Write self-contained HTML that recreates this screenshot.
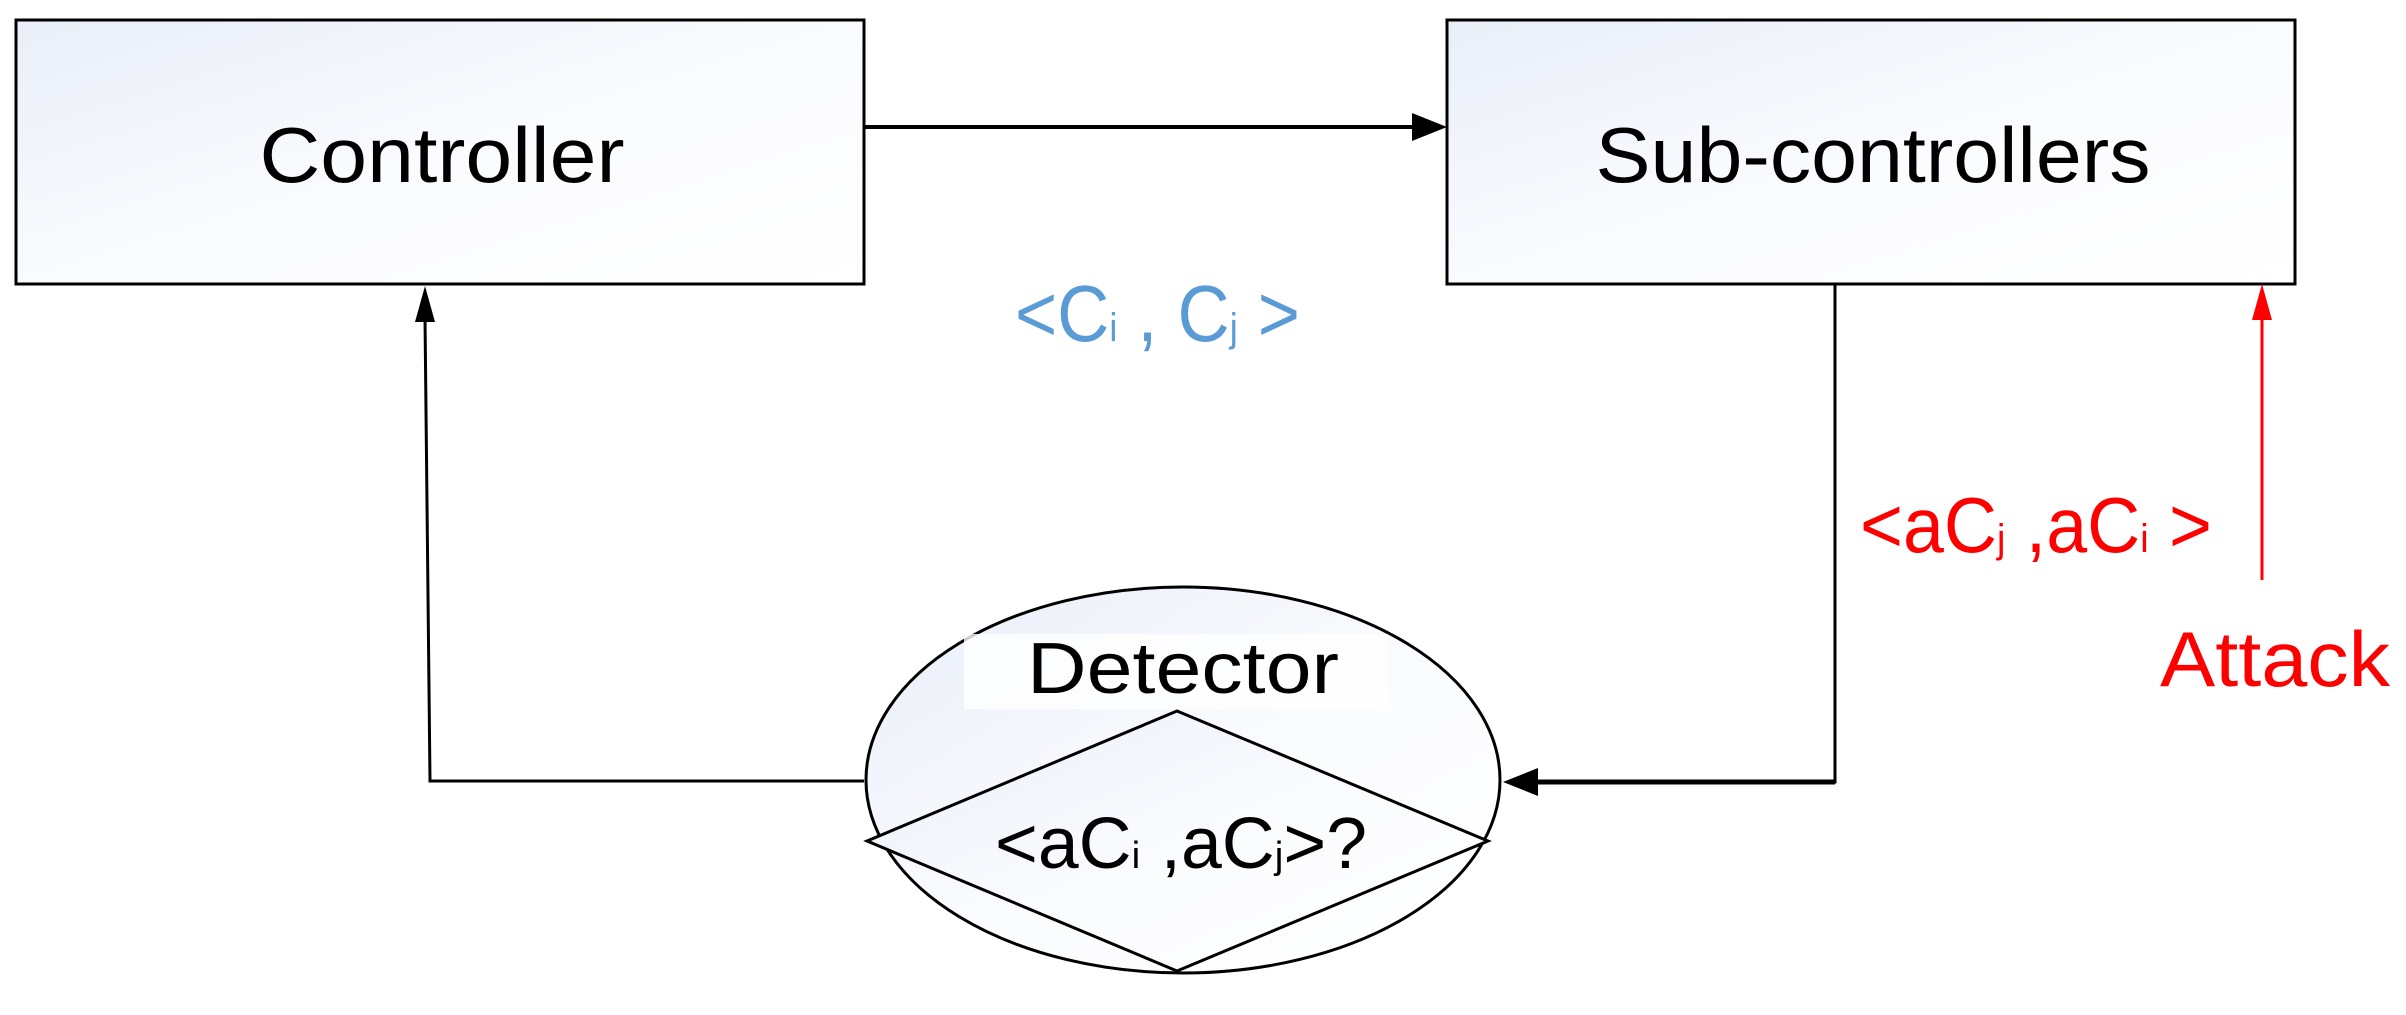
<!DOCTYPE html>
<html><head><meta charset="utf-8"><style>html,body{margin:0;padding:0;background:#fff}svg{display:block}</style></head>
<body>
<svg width="2406" height="1015" viewBox="0 0 2406 1015" xmlns="http://www.w3.org/2000/svg" font-family="Liberation Sans, sans-serif">
<defs>
<linearGradient id="g" x1="0" y1="0" x2="1" y2="1"><stop offset="0" stop-color="#e9eef8"/><stop offset="0.5" stop-color="#fafbfe"/><stop offset="1" stop-color="#ffffff"/></linearGradient>
</defs>
<rect x="16" y="20" width="848" height="264" fill="url(#g)" stroke="#000" stroke-width="3"/>
<rect x="1447" y="20" width="848" height="264" fill="url(#g)" stroke="#000" stroke-width="3"/>
<text x="442" y="182" font-size="78" text-anchor="middle" textLength="365" lengthAdjust="spacingAndGlyphs">Controller</text>
<text x="1873" y="182" font-size="78" text-anchor="middle" textLength="555" lengthAdjust="spacingAndGlyphs">Sub-controllers</text>
<!-- top arrow -->
<line x1="864" y1="127" x2="1415" y2="127" stroke="#000" stroke-width="4"/>
<polygon points="1447,127 1412,113 1412,141" fill="#000"/>
<!-- left feedback -->
<polyline points="864,781 430,781 425,318" fill="none" stroke="#000" stroke-width="3"/>
<polygon points="425,286 415,322 435,322" fill="#000"/>
<!-- right line -->
<polyline points="1835,284 1835,782 1530,782" fill="none" stroke="#000" stroke-width="3"/>
<line x1="1835" y1="782" x2="1530" y2="782" stroke="#000" stroke-width="5"/>
<polygon points="1503,782 1538,768 1538,796" fill="#000"/>
<!-- ellipse -->
<ellipse cx="1183" cy="780" rx="317" ry="193" fill="url(#g)" stroke="#000" stroke-width="3"/>
<rect x="964" y="634" width="424" height="75" fill="#fff" opacity="0.8"/>
<text x="1183" y="693" font-size="72" text-anchor="middle" textLength="312" lengthAdjust="spacingAndGlyphs">Detector</text>
<polygon points="1177,711 1488,841 1177,971 867,841" fill="url(#g)" stroke="#000" stroke-width="3"/>
<text x="995" y="868" font-size="72" textLength="372" lengthAdjust="spacingAndGlyphs">&lt;aC<tspan font-size="38">i</tspan> ,aC<tspan font-size="38">j</tspan>&gt;?</text>
<!-- labels -->
<text x="1015" y="341" font-size="80" fill="#5b9bd5" textLength="285" lengthAdjust="spacingAndGlyphs">&lt;C<tspan font-size="40">i</tspan> , C<tspan font-size="40">j</tspan> &gt;</text>
<text x="1860" y="552" font-size="78" fill="#ff0000" textLength="352" lengthAdjust="spacingAndGlyphs">&lt;aC<tspan font-size="40">j</tspan> ,aC<tspan font-size="40">i</tspan> &gt;</text>
<text x="2160" y="686" font-size="78" fill="#ff0000" textLength="230" lengthAdjust="spacingAndGlyphs">Attack</text>
<!-- red arrow -->
<line x1="2262" y1="580" x2="2262" y2="310" stroke="#ff0000" stroke-width="3"/>
<polygon points="2262,284 2252,320 2272,320" fill="#ff0000"/>
</svg>
</body></html>
